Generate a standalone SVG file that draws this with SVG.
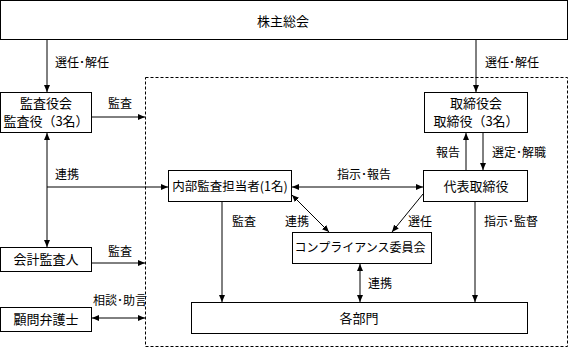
<svg xmlns="http://www.w3.org/2000/svg" width="582" height="349" viewBox="0 0 582 349">
<style>
rect.box{fill:#fff;stroke:#000;stroke-width:1}
text{font-family:"Noto Sans CJK JP","Noto Sans CJK SC",sans-serif;font-size:12px;fill:#000}
.c{text-anchor:middle;font-size:13px}
.ln{stroke:#000;stroke-width:1;fill:none}
</style>
<defs>
<marker id="ah" markerWidth="8" markerHeight="8" refX="7" refY="4" orient="auto-start-reverse" markerUnits="userSpaceOnUse">
<path d="M0,1 L7,4 L0,7 Z" fill="#000"/>
</marker>
</defs>
<rect x="145.5" y="77.5" width="422" height="269" fill="none" stroke="#000" stroke-dasharray="3,2"/>
<g id="connectors">
<line class="ln" x1="47" y1="40" x2="47" y2="92" marker-end="url(#ah)"/>
<line class="ln" x1="476" y1="40" x2="476" y2="92" marker-end="url(#ah)"/>
<line class="ln" x1="92" y1="117" x2="145" y2="117" marker-end="url(#ah)"/>
<line class="ln" x1="47" y1="133" x2="47" y2="247" marker-start="url(#ah)" marker-end="url(#ah)"/>
<line class="ln" x1="47" y1="187" x2="168" y2="187" marker-end="url(#ah)"/>
<line class="ln" x1="92" y1="263" x2="145" y2="263" marker-end="url(#ah)"/>
<line class="ln" x1="92" y1="318" x2="145" y2="318" marker-start="url(#ah)" marker-end="url(#ah)"/>
<line class="ln" x1="466" y1="170" x2="466" y2="133" marker-end="url(#ah)"/>
<line class="ln" x1="483" y1="133" x2="483" y2="170" marker-end="url(#ah)"/>
<line class="ln" x1="292" y1="187" x2="423" y2="187" marker-start="url(#ah)" marker-end="url(#ah)"/>
<line class="ln" x1="222" y1="202" x2="222" y2="302" marker-end="url(#ah)"/>
<line class="ln" x1="292" y1="195" x2="329" y2="232" marker-start="url(#ah)" marker-end="url(#ah)"/>
<line class="ln" x1="423" y1="194" x2="392" y2="232" marker-end="url(#ah)"/>
<line class="ln" x1="475" y1="202" x2="475" y2="302" marker-end="url(#ah)"/>
<line class="ln" x1="360" y1="264" x2="360" y2="302" marker-start="url(#ah)" marker-end="url(#ah)"/>
<text x="55" y="67">選任･解任</text>
<text x="485" y="67">選任･解任</text>
<text x="108" y="108">監査</text>
<text x="55" y="179">連携</text>
<text x="108" y="256">監査</text>
<text x="93" y="305">相談･助言</text>
<text x="436" y="157">報告</text>
<text x="492" y="157">選定･解職</text>
<text x="337" y="179">指示･報告</text>
<text x="232" y="226">監査</text>
<text x="285" y="226">連携</text>
<text x="408" y="226">選任</text>
<text x="484" y="226">指示･監督</text>
<text x="368" y="288">連携</text>
</g>
<g id="shareholders"><rect class="box" x="0.5" y="0.5" width="567" height="39"/><text class="c" x="283" y="26">株主総会</text></g>
<g id="auditors"><rect class="box" x="0.5" y="92.5" width="91" height="40"/><text class="c" x="46" y="108">監査役会</text><text class="c" x="46" y="126">監査役（3名）</text></g>
<g id="accounting"><rect class="box" x="0.5" y="247.5" width="91" height="24"/><text class="c" x="46" y="264">会計監査人</text></g>
<g id="lawyer"><rect class="box" x="0.5" y="307.5" width="91" height="24"/><text class="c" x="46" y="324">顧問弁護士</text></g>
<g id="internal"><rect class="box" x="168.5" y="170.5" width="123" height="31"/><text class="c" x="230" y="191" style="font-size:12.5px">内部監査担当者(1名)</text></g>
<g id="board"><rect class="box" x="424.5" y="92.5" width="103" height="40"/><text class="c" x="476" y="108">取締役会</text><text class="c" x="476" y="126">取締役（3名）</text></g>
<g id="ceo"><rect class="box" x="423.5" y="170.5" width="104" height="31"/><text class="c" x="476" y="191">代表取締役</text></g>
<g id="compliance"><rect class="box" x="292.5" y="232.5" width="139" height="31"/><text class="c" x="360" y="252" style="font-size:12px">コンプライアンス委員会</text></g>
<g id="departments"><rect class="box" x="191.5" y="302.5" width="336" height="31"/><text class="c" x="359" y="323">各部門</text></g>
</svg>
